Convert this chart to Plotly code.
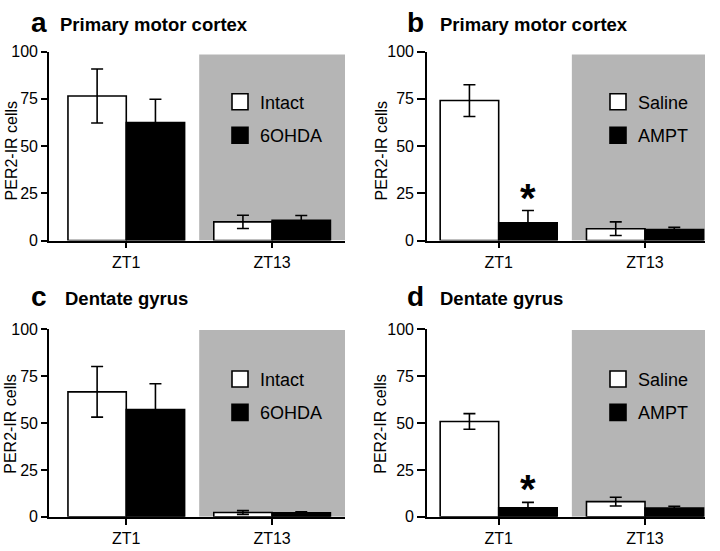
import plotly.graph_objects as go

# ---------------- data ----------------
categories = ["ZT1", "ZT13"]
panel_letters = ["a", "b", "c", "d"]
panel_titles = ["Primary motor cortex", "Primary motor cortex", "Dentate gyrus", "Dentate gyrus"]
group_names = [["Intact", "6OHDA"], ["Saline", "AMPT"], ["Intact", "6OHDA"], ["Saline", "AMPT"]]

a_intact = [76.5, 9.9]
a_intact_se = [14.3, 3.5]
a_6ohda = [62.5, 10.8]
a_6ohda_se = [12.3, 2.5]

b_saline = [74.1, 6.3]
b_saline_se = [8.4, 3.6]
b_ampt = [9.4, 5.8]
b_ampt_se = [6.5, 1.2]

c_intact = [66.7, 2.3]
c_intact_se = [13.5, 1.0]
c_6ohda = [57.3, 2.2]
c_6ohda_se = [13.7, 0.5]

d_saline = [50.9, 8.1]
d_saline_se = [4.2, 2.3]
d_ampt = [4.8, 4.7]
d_ampt_se = [2.9, 0.9]

# significance marks: (panel index, category index) -> over treatment bar
significant = [(1, 0), (3, 0)]

y_ticks = [0, 25, 50, 75, 100]

panel_ctrl = [a_intact, b_saline, c_intact, d_saline]
panel_ctrl_se = [a_intact_se, b_saline_se, c_intact_se, d_saline_se]
panel_trt = [a_6ohda, b_ampt, c_6ohda, d_ampt]
panel_trt_se = [a_6ohda_se, b_ampt_se, c_6ohda_se, d_ampt_se]

# ---------------- layout helpers ----------------
W, H = 720, 551
FONT = "Liberation Sans, Arial, Helvetica, sans-serif"


def px(x):
    return x / W


def py(y):
    return 1 - y / H


x_pos = list(range(len(categories)))
col_dom = [[px(49), px(345)], [px(427), px(705)]]
row_dom = [[py(240), py(45)], [py(525), py(331.7)]]
col_range = [[-0.53, 1.5], [-0.49, 1.41]]
gray_top = [98.5, 98.5, 99.7, 99.7]
y_ticklen = [6, 8]
BAR_W = 0.4

fig = go.Figure()

for i in range(4):
    r, c = divmod(i, 2)
    sfx = "" if i == 0 else str(i + 1)
    xa, ya = "x" + sfx, "y" + sfx
    leg = "legend" if i == 0 else "legend" + str(i + 1)

    fig.add_trace(go.Bar(
        x=x_pos, y=panel_ctrl[i], xaxis=xa, yaxis=ya,
        marker=dict(color="white", line=dict(color="black", width=1.6)),
        error_y=dict(type="data", array=panel_ctrl_se[i], color="black", thickness=1.6, width=6),
        showlegend=False, name=group_names[i][0]))
    fig.add_trace(go.Bar(
        x=x_pos, y=panel_trt[i], xaxis=xa, yaxis=ya,
        marker=dict(color="black", line=dict(color="black", width=1.6)),
        error_y=dict(type="data", array=panel_trt_se[i], color="black", thickness=1.6, width=6),
        showlegend=False, name=group_names[i][1]))
    # legend proxies
    for k, col in enumerate(["white", "black"]):
        fig.add_trace(go.Scatter(
            x=[None], y=[None], xaxis=xa, yaxis=ya, mode="markers",
            marker=dict(symbol="square", size=16, color=col, line=dict(color="black", width=1.6)),
            name=group_names[i][k], legend=leg, legendgroup=f"g{i}_{k}", showlegend=True))

    axis_common = dict(showline=True, linecolor="black", linewidth=1.6, ticks="outside",
                       tickwidth=1.6, tickcolor="black", showgrid=False, zeroline=False,
                       tickfont=dict(family=FONT, size=16, color="black"))
    fig.update_layout(**{
        ("xaxis" + sfx): dict(domain=col_dom[c], range=col_range[c], anchor=ya, ticklen=6,
                              tickvals=x_pos, ticktext=categories, **axis_common),
        ("yaxis" + sfx): dict(domain=row_dom[r], range=[0, 100], anchor=xa, ticklen=y_ticklen[c],
                              tickvals=y_ticks, ticktext=[str(t) for t in y_ticks], **axis_common),
    })

    # shaded dark phase
    fig.add_shape(type="rect", xref=xa, yref=ya, x0=0.5, x1=col_range[c][1], y0=0, y1=gray_top[i],
                  fillcolor="#b5b5b5", line=dict(width=0), layer="below")

    # legend placement
    lx = [220, 598][c]
    ly = [78, 364][r]
    fig.update_layout(**{leg: dict(x=px(lx), y=py(ly), xanchor="left", yanchor="top",
                                   bgcolor="rgba(0,0,0,0)", font=dict(family=FONT, size=18, color="black"),
                                   traceorder="grouped", tracegroupgap=7, itemsizing="trace")})

    # y axis title
    ytitle_y = [147, 429][r]
    ytitle_x = [11, 381][c]
    fig.add_annotation(x=px(ytitle_x), y=py(ytitle_y), xref="paper", yref="paper", text="PER2-IR cells",
                       textangle=-90, showarrow=False, font=dict(family=FONT, size=16, color="black"),
                       xanchor="center", yanchor="middle")

    # panel letter and title
    letter_x = [29, 405][c]
    title_x = [[58, 438], [63, 438]][r][c]
    title_y = [17, 300][r]
    fig.add_annotation(x=px(letter_x), y=py(title_y - 2), xref="paper", yref="paper",
                       text="<b>" + panel_letters[i] + "</b>", showarrow=False,
                       font=dict(family=FONT, size=28, color="black"), xanchor="left", yanchor="middle")
    fig.add_annotation(x=px(title_x), y=py(title_y), xref="paper", yref="paper",
                       text="<b>" + panel_titles[i] + "</b>", showarrow=False,
                       font=dict(family=FONT, size=18.5, color="black"), xanchor="left", yanchor="middle")

# significance asterisks
for (i, k) in significant:
    sfx = "" if i == 0 else str(i + 1)
    top = panel_trt[i][k] + panel_trt_se[i][k]
    fig.add_annotation(x=x_pos[k] + BAR_W / 2, y=top, xref="x" + sfx, yref="y" + sfx,
                       text="<b>*</b>", showarrow=False, yanchor="bottom", yshift=-11,
                       font=dict(family=FONT, size=40, color="black"))

fig.update_layout(
    width=W, height=H, margin=dict(l=0, r=0, t=0, b=0),
    paper_bgcolor="white", plot_bgcolor="rgba(0,0,0,0)",
    barmode="group", bargap=0.2, bargroupgap=0,
    font=dict(family=FONT, color="black"),
)

fig.write_html("out.html", config={"displayModeBar": False},
               post_script="document.body.style.margin='0px';document.body.style.overflow='hidden';")
